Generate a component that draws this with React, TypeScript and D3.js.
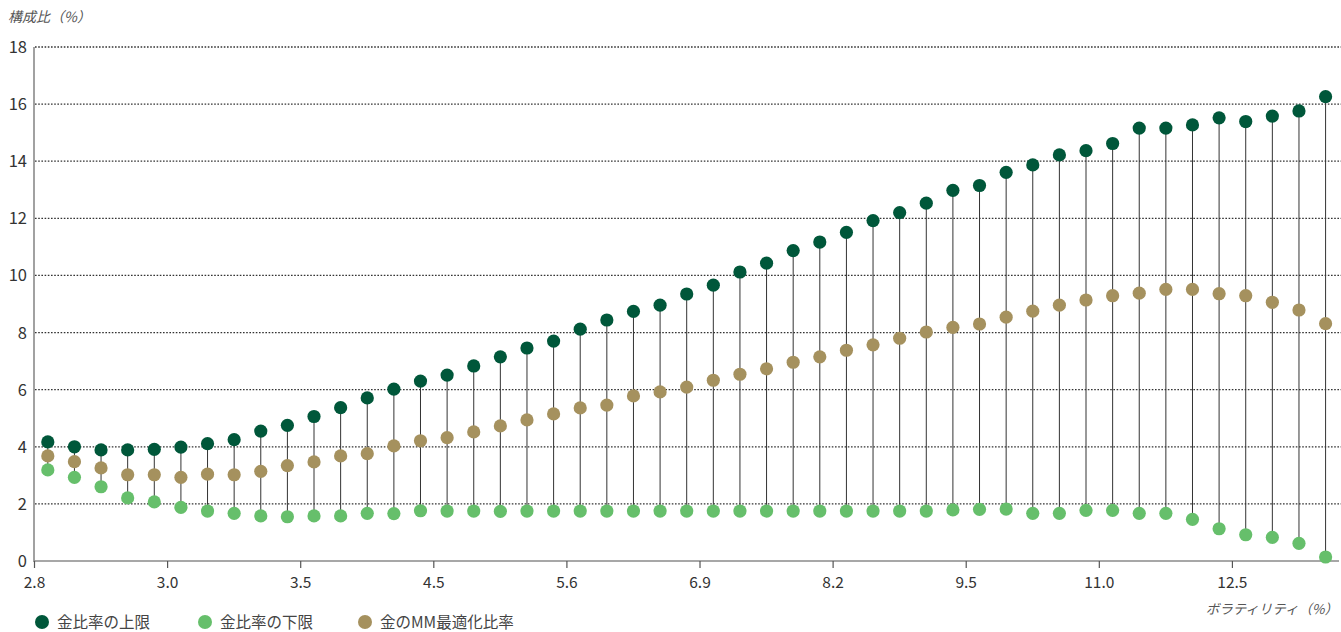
import React from "react";
import * as d3 from "d3";

const upperLimit = [4.17,4.00,3.89,3.89,3.91,3.99,4.11,4.25,4.55,4.75,5.06,5.37,5.71,6.02,6.30,6.51,6.83,7.15,7.46,7.70,8.12,8.44,8.74,8.96,9.35,9.66,10.12,10.43,10.87,11.17,11.51,11.92,12.20,12.53,12.98,13.15,13.61,13.87,14.22,14.37,14.62,15.16,15.16,15.27,15.52,15.39,15.58,15.76,16.26];
const mmOptimal = [3.68,3.48,3.26,3.02,3.02,2.93,3.04,3.02,3.14,3.34,3.47,3.68,3.76,4.03,4.21,4.32,4.52,4.73,4.94,5.15,5.36,5.46,5.78,5.92,6.09,6.33,6.54,6.73,6.96,7.15,7.38,7.57,7.80,8.02,8.18,8.30,8.54,8.75,8.96,9.14,9.29,9.38,9.51,9.51,9.36,9.29,9.06,8.79,8.31];
const lowerLimit = [3.19,2.93,2.60,2.21,2.07,1.88,1.75,1.67,1.58,1.55,1.58,1.58,1.67,1.66,1.76,1.75,1.75,1.74,1.75,1.75,1.75,1.75,1.75,1.75,1.75,1.75,1.75,1.75,1.75,1.75,1.75,1.75,1.75,1.75,1.79,1.81,1.82,1.67,1.67,1.77,1.77,1.67,1.67,1.46,1.13,0.92,0.83,0.62,0.14];
const xTickLabels = ["2.8","3.0","3.5","4.5","5.6","6.9","8.2","9.5","11.0","12.5"];
const yTicks = [0,2,4,6,8,10,12,14,16,18];
const seriesNames = ["金比率の上限","金比率の下限","金のMM最適化比率"];

const C_UP = "#00573a";
const C_LOW = "#66bf6b";
const C_MM = "#a5915e";
const FONT = "'Noto Sans CJK JP', 'Noto Sans', sans-serif";

export default function App() {
  const W = 1341, H = 632;
  const idx = upperLimit.map((_, i) => i);
  const x = d3.scaleBand<number>().domain(idx).range([34.5, 1338.9]).padding(0);
  const y = d3.scaleLinear().domain([0, 18]).range([561, 47]);
  const cx = (i: number) => (x(i) as number) + x.bandwidth() / 2;
  const r = 6.6;
  const seriesColors = [C_UP, C_LOW, C_MM];
  const legendX = [42, 205, 365];

  return (
    <svg width={W} height={H} style={{ position: "absolute", left: 0, top: 0, display: "block", background: "#fff" }} fontFamily={FONT}>
      {/* gridlines */}
      {yTicks.filter(t => t > 0).map(t => (
        <line key={"g" + t} x1={35} x2={W} y1={y(t)} y2={y(t)} stroke="#333" strokeWidth={1.3} strokeDasharray="1.6,1.6" />
      ))}
      {/* axes */}
      <line x1={34} x2={34} y1={y(18)} y2={y(0) + 1} stroke="#8a8a8a" strokeWidth={1.6} />
      <line x1={34} x2={1339} y1={y(0)} y2={y(0)} stroke="#8a8a8a" strokeWidth={1.6} />
      {xTickLabels.map((lab, k) => {
        const tx = x(k * 5) as number;
        return (
          <g key={"xt" + k}>
            <line x1={tx} x2={tx} y1={y(0)} y2={y(0) + 7} stroke="#555" strokeWidth={1.2} />
            <text x={tx} y={588} textAnchor="middle" fontSize={15.5} fill="#333">{lab}</text>
          </g>
        );
      })}
      {yTicks.map(t => (
        <text key={"yt" + t} x={27} y={y(t) + 6} textAnchor="end" fontSize={16.5} fill="#333">{t}</text>
      ))}
      {/* range lines */}
      {idx.map(i => (
        <line key={"rl" + i} x1={cx(i)} x2={cx(i)} y1={y(upperLimit[i])} y2={y(lowerLimit[i])} stroke="#333" strokeWidth={1} />
      ))}
      {/* points */}
      {idx.map(i => (
        <circle key={"u" + i} cx={cx(i)} cy={y(upperLimit[i])} r={r} fill={C_UP} />
      ))}
      {idx.map(i => (
        <circle key={"l" + i} cx={cx(i)} cy={y(lowerLimit[i])} r={r} fill={C_LOW} />
      ))}
      {idx.map(i => (
        <circle key={"m" + i} cx={cx(i)} cy={y(mmOptimal[i])} r={r} fill={C_MM} />
      ))}
      {/* axis titles */}
      <text x={8} y={22} fontSize={14} fontStyle="italic" fill="#555">構成比（%）</text>
      <text x={1338} y={614} textAnchor="end" fontSize={13.5} fontStyle="italic" fill="#555">ボラティリティ（%）</text>
      {/* legend */}
      {seriesNames.map((n, k) => (
        <g key={"lg" + k}>
          <circle cx={legendX[k]} cy={622} r={7} fill={seriesColors[k]} />
          <text x={legendX[k] + 15} y={627.5} fontSize={15.5} fill="#444">{n}</text>
        </g>
      ))}
    </svg>
  );
}
